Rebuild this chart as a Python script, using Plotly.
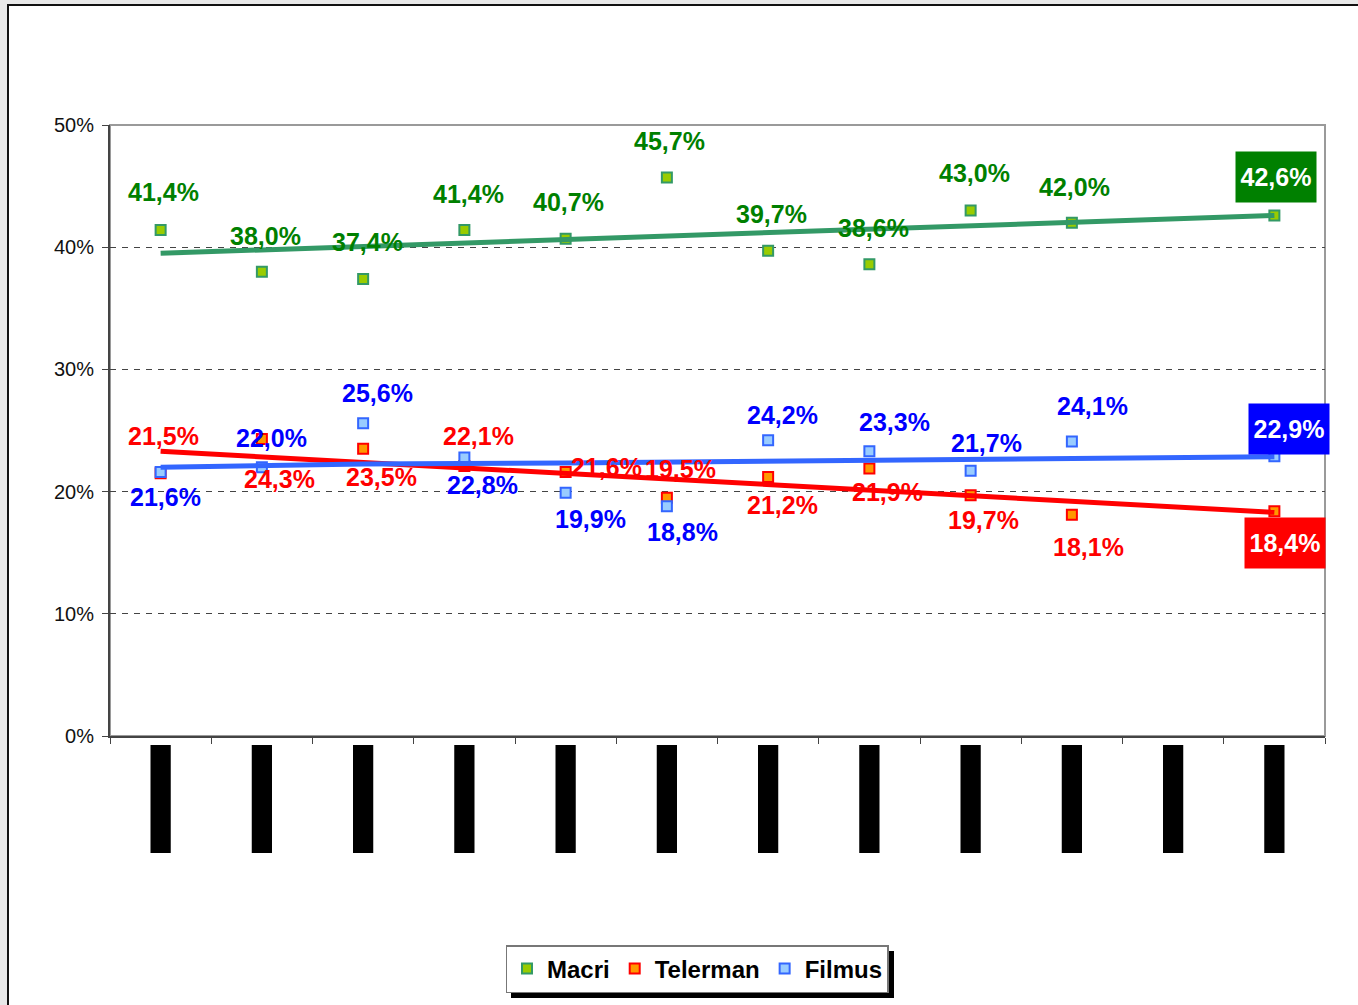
import plotly.graph_objects as go

# ---- data ----
positions = list(range(12))          # category slots (labels redacted in the source)
macri    = [41.4, 38.0, 37.4, 41.4, 40.7, 45.7, 39.7, 38.6, 43.0, 42.0, None, 42.6]
telerman = [21.5, 24.3, 23.5, 22.1, 21.6, 19.5, 21.2, 21.9, 19.7, 18.1, None, 18.4]
filmus   = [21.6, 22.0, 25.6, 22.8, 19.9, 18.8, 24.2, 23.3, 21.7, 24.1, None, 22.9]

trend_x        = [0, 11]
macri_trend    = [39.5, 42.6]
telerman_trend = [23.3, 18.3]
filmus_trend_x = [0, 2, 4, 6, 8, 10, 11]
filmus_trend   = [22.0, 22.25, 22.35, 22.5, 22.65, 22.85, 22.85]

y_ticks = [0, 10, 20, 30, 40, 50]
y_tick_labels = ["0%", "10%", "20%", "30%", "40%", "50%"]

# ---- label offsets (style, pixels: dx right, dy down) ----
macri_off    = [(3, -38), (4, -36), (4, -37), (4, -36), (3, -37), (3, -37),
                (3, -37), (4, -36), (4, -38), (3, -36), None, (1.5, -38)]
telerman_off = [(3, -37), (18, 40), (18, 28), (14, -30), (41, -5), (14, -29),
                (14, 28), (18, 24), (13, 25), (17, 32), None, (11, 31.5)]
filmus_off   = [(5, 25), (10, -29), (14, -30), (18, 28), (25, 26), (16, 26),
                (14, -25), (25, -29), (16, -28), (21, -36), None, (15, -27.5)]

FONT = "Arial, Liberation Sans, sans-serif"
series = [
    ("Macri", macri, macri_off, "#99CC00", "#339966", "#008000", trend_x, macri_trend, "#339966"),
    ("Telerman", telerman, telerman_off, "#FF9900", "#FF0000", "#FF0000", trend_x, telerman_trend, "#FF0000"),
    ("Filmus", filmus, filmus_off, "#99CCFF", "#3366FF", "#0000FF", filmus_trend_x, filmus_trend, "#3366FF"),
]

fig = go.Figure()

# markers
for name, vals, off, fill, edge, txt, tx, ty, tcol in series:
    fig.add_trace(go.Scatter(
        x=positions, y=vals, mode="markers", name=name,
        marker=dict(symbol="square", size=10, color=fill, line=dict(color=edge, width=2)),
        cliponaxis=False,
    ))
# trend lines on top of markers
for name, vals, off, fill, edge, txt, tx, ty, tcol in series:
    fig.add_trace(go.Scatter(
        x=tx, y=ty, mode="lines", showlegend=False, hoverinfo="skip",
        line=dict(color=tcol, width=5),
    ))

# data labels
annotations = []
last = len(positions) - 1
for name, vals, off, fill, edge, txt, tx, ty, tcol in series:
    for i, v in enumerate(vals):
        if v is None:
            continue
        label = f"{v:.1f}%".replace(".", ",")
        dx, dy = off[i]
        if i == last:
            annotations.append(dict(
                x=positions[i], y=v, xref="x", yref="y", text=label, showarrow=False,
                xshift=dx, yshift=-dy, bgcolor=txt, width=76, height=46, borderpad=2,
                font=dict(family=FONT, size=25, color="white", weight="bold"),
            ))
        else:
            annotations.append(dict(
                x=positions[i], y=v, xref="x", yref="y", text=label, showarrow=False,
                xshift=dx, yshift=-dy,
                font=dict(family=FONT, size=25, color=txt, weight="bold"),
            ))

# ---- layout geometry ----
W, H = 1358, 1005
L, R, T, B = 110, 33, 125, 269
pw, ph = W - L - R, H - T - B

def px_x(p):
    return (p - L) / pw

def px_y(p):
    return (H - B - p) / ph

shapes = []
# outer chart frame (white area with dark left/top border on grey page)
shapes.append(dict(type="rect", xref="paper", yref="paper", layer="below",
                   x0=px_x(8), x1=px_x(1400), y0=px_y(1050), y1=px_y(5),
                   fillcolor="white", line=dict(color="#111111", width=2)))
# plot-area border (top/right light grey)
shapes.append(dict(type="rect", xref="paper", yref="paper", layer="below",
                   x0=0, x1=1, y0=0, y1=1, fillcolor="rgba(0,0,0,0)",
                   line=dict(color="#9a9a9a", width=2)))
# redacted category labels (black bars)
for p in positions:
    shapes.append(dict(type="rect", xref="x", yref="paper",
                       x0=p - 0.1, x1=p + 0.1, y0=px_y(853), y1=px_y(745),
                       fillcolor="black", line=dict(width=0)))
# legend shadow
shapes.append(dict(type="rect", xref="paper", yref="paper",
                   x0=px_x(511), x1=px_x(894), y0=px_y(998), y1=px_y(951),
                   fillcolor="black", line=dict(width=0)))

fig.update_layout(
    width=W, height=H,
    margin=dict(l=L, r=R, t=T, b=B),
    paper_bgcolor="#e8e8e8", plot_bgcolor="white",
    font=dict(family=FONT, color="#111111"),
    showlegend=True,
    legend=dict(orientation="h", x=px_x(697), y=px_y(969), xanchor="center", yanchor="middle",
                bgcolor="white", bordercolor="#777777", borderwidth=1.5,
                font=dict(family=FONT, size=24, color="black", weight="bold"),
                itemwidth=30, tracegroupgap=0),
    annotations=annotations,
    shapes=shapes,
    xaxis=dict(range=[-0.5, 11.5], tickvals=[p - 0.5 for p in positions] + [11.5],
               ticktext=[""] * 13, ticks="outside", ticklen=6, tickcolor="#444",
               showline=True, linecolor="#444", linewidth=2, showgrid=False, zeroline=False,
               fixedrange=True),
    yaxis=dict(range=[0, 50], tickvals=y_ticks, ticktext=y_tick_labels, ticks="outside", ticklen=6,
               tickcolor="#444", showline=True, linecolor="#444", linewidth=2,
               showgrid=True, gridcolor="#444", gridwidth=1, griddash="6px,6px",
               zeroline=False, tickfont=dict(family=FONT, size=20, color="#111"),
               ticklabelstandoff=4, fixedrange=True),
)

fig.write_html("out.html", config={"displayModeBar": False},
               post_script="document.body.style.margin='0';document.body.style.background='#e8e8e8';")
